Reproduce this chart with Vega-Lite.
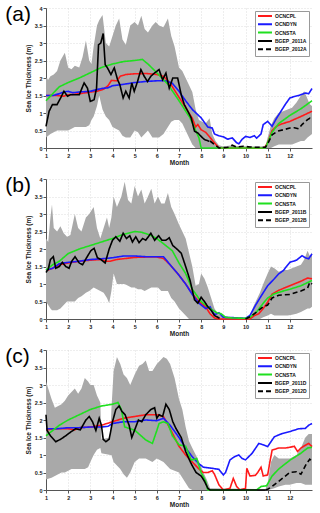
{
"$schema": "https://vega.github.io/schema/vega-lite/v6.json",
"padding": {"left": 5, "top": 4, "right": 7, "bottom": 2},
"spacing": 9,
"config": {
  "font": "Liberation Sans",
  "view": {"stroke": null},
  "axis": {"grid": true, "gridColor": "#c8c8c8", "gridDash": [1, 2], "gridWidth": 0.6, "domainColor": "#555", "tickColor": "#555", "tickSize": 3, "labelFontSize": 5.5, "labelFontWeight": "bold", "labelColor": "#222", "labelOverlap": false, "labelFlush": false, "titleFontSize": 6.5, "titleFontWeight": "bold", "titleColor": "#222"},
  "axisX": {"labelPadding": 2, "titlePadding": 1},
  "axisY": {"labelPadding": 1, "titlePadding": 3},
  "legend": {"orient": "top-right", "offset": 3, "fillColor": "white", "strokeColor": "#999", "padding": 2, "labelFontSize": 5, "labelFontWeight": "bold", "labelColor": "#111", "symbolType": "M-1,0H6", "symbolSize": 16, "symbolStrokeWidth": 2, "rowPadding": 0.3, "labelOffset": 12},
  "title": {"fontSize": 21, "fontWeight": "normal", "anchor": "start", "frame": "bounds", "offset": 0, "color": "#000"}
},
"datasets": {
"eA": [
{"m":1.0,"lo":0.3,"hi":2.0},{"m":1.1,"lo":0.35,"hi":1.95},{"m":1.2,"lo":0.4,"hi":2.05},{"m":1.35,"lo":0.45,"hi":2.1},{"m":1.5,"lo":0.5,"hi":2.2},{"m":1.65,"lo":0.5,"hi":2.5},{"m":1.85,"lo":0.5,"hi":2.72},{"m":2.0,"lo":0.5,"hi":2.3},{"m":2.15,"lo":0.55,"hi":2.25},{"m":2.3,"lo":0.6,"hi":2.35},{"m":2.5,"lo":0.6,"hi":2.3},{"m":2.65,"lo":0.6,"hi":2.6},{"m":2.8,"lo":0.6,"hi":3.07},{"m":2.95,"lo":0.65,"hi":2.5},{"m":3.05,"lo":0.8,"hi":2.4},{"m":3.15,"lo":0.9,"hi":2.9},{"m":3.3,"lo":1.2,"hi":3.5},{"m":3.4,"lo":1.5,"hi":3.65},{"m":3.55,"lo":1.1,"hi":3.8},{"m":3.7,"lo":0.9,"hi":3.0},{"m":3.85,"lo":0.8,"hi":2.9},{"m":4.0,"lo":0.6,"hi":3.2},{"m":4.15,"lo":0.55,"hi":3.5},{"m":4.3,"lo":0.5,"hi":3.7},{"m":4.45,"lo":0.35,"hi":3.1},{"m":4.6,"lo":0.3,"hi":2.95},{"m":4.8,"lo":0.3,"hi":3.5},{"m":5.0,"lo":0.5,"hi":3.6},{"m":5.15,"lo":0.45,"hi":3.5},{"m":5.3,"lo":0.3,"hi":3.78},{"m":5.45,"lo":0.4,"hi":3.4},{"m":5.6,"lo":0.5,"hi":3.3},{"m":5.8,"lo":0.3,"hi":3.5},{"m":5.95,"lo":0.3,"hi":3.6},{"m":6.1,"lo":0.3,"hi":3.5},{"m":6.3,"lo":0.4,"hi":3.45},{"m":6.5,"lo":0.6,"hi":3.7},{"m":6.65,"lo":0.75,"hi":3.2},{"m":6.8,"lo":0.8,"hi":2.9},{"m":7.0,"lo":0.8,"hi":2.3},{"m":7.15,"lo":0.7,"hi":2.2},{"m":7.3,"lo":0.5,"hi":2.0},{"m":7.45,"lo":0.3,"hi":1.8},{"m":7.6,"lo":0.1,"hi":1.6},{"m":7.75,"lo":0.0,"hi":1.1},{"m":7.9,"lo":0.0,"hi":0.8},{"m":8.05,"lo":0.0,"hi":0.75},{"m":8.2,"lo":0.0,"hi":0.7},{"m":8.38,"lo":0.0,"hi":0.85},{"m":8.5,"lo":0.0,"hi":0.4},{"m":8.65,"lo":0.0,"hi":0.2},{"m":8.8,"lo":0.0,"hi":0.08},{"m":9.0,"lo":0.0,"hi":0.04},{"m":9.4,"lo":0.0,"hi":0.08},{"m":9.6,"lo":0.0,"hi":0.06},{"m":10.0,"lo":0.0,"hi":0.05},{"m":10.5,"lo":0.0,"hi":0.04},{"m":10.9,"lo":0.0,"hi":0.05},{"m":11.0,"lo":0.0,"hi":0.3},{"m":11.15,"lo":0.0,"hi":0.65},{"m":11.3,"lo":0.05,"hi":0.85},{"m":11.5,"lo":0.1,"hi":1.0},{"m":11.7,"lo":0.1,"hi":1.05},{"m":11.9,"lo":0.1,"hi":1.1},{"m":12.1,"lo":0.1,"hi":1.15},{"m":12.3,"lo":0.15,"hi":1.3},{"m":12.5,"lo":0.2,"hi":1.5},{"m":12.65,"lo":0.2,"hi":1.62},{"m":12.8,"lo":0.3,"hi":1.4},{"m":12.9,"lo":0.35,"hi":1.25},{"m":13.0,"lo":0.4,"hi":1.2}
],
"lA": [
{"s":"OCNCPL","m":1.0,"v":1.5},{"s":"OCNCPL","m":1.5,"v":1.5},{"s":"OCNCPL","m":1.8,"v":1.48},{"s":"OCNCPL","m":2.0,"v":1.52},{"s":"OCNCPL","m":2.5,"v":1.55},{"s":"OCNCPL","m":3.0,"v":1.6},{"s":"OCNCPL","m":3.3,"v":1.62},{"s":"OCNCPL","m":3.6,"v":1.68},{"s":"OCNCPL","m":3.8,"v":1.78},{"s":"OCNCPL","m":3.95,"v":1.93},{"s":"OCNCPL","m":4.2,"v":1.92},{"s":"OCNCPL","m":4.35,"v":2.05},{"s":"OCNCPL","m":4.6,"v":2.1},{"s":"OCNCPL","m":5.0,"v":2.12},{"s":"OCNCPL","m":5.5,"v":2.13},{"s":"OCNCPL","m":6.0,"v":2.1},{"s":"OCNCPL","m":6.3,"v":2.05},{"s":"OCNCPL","m":6.6,"v":1.85},{"s":"OCNCPL","m":7.0,"v":1.45},{"s":"OCNCPL","m":7.3,"v":1.15},{"s":"OCNCPL","m":7.6,"v":0.85},{"s":"OCNCPL","m":7.75,"v":0.6},{"s":"OCNCPL","m":7.85,"v":0.67},{"s":"OCNCPL","m":8.0,"v":0.52},{"s":"OCNCPL","m":8.2,"v":0.45},{"s":"OCNCPL","m":8.4,"v":0.3},{"s":"OCNCPL","m":8.6,"v":0.15},{"s":"OCNCPL","m":8.8,"v":0.0},{"s":"OCNCPL","m":10.85,"v":0.0},{"s":"OCNCPL","m":11.0,"v":0.15},{"s":"OCNCPL","m":11.2,"v":0.5},{"s":"OCNCPL","m":11.4,"v":0.62},{"s":"OCNCPL","m":11.6,"v":0.68},{"s":"OCNCPL","m":12.0,"v":0.76},{"s":"OCNCPL","m":12.5,"v":0.9},{"s":"OCNCPL","m":13.0,"v":1.05},
{"s":"OCNDYN","m":1.0,"v":1.5},{"s":"OCNDYN","m":1.3,"v":1.5},{"s":"OCNDYN","m":1.6,"v":1.55},{"s":"OCNDYN","m":1.8,"v":1.6},{"s":"OCNDYN","m":2.0,"v":1.62},{"s":"OCNDYN","m":2.2,"v":1.58},{"s":"OCNDYN","m":2.5,"v":1.6},{"s":"OCNDYN","m":3.0,"v":1.62},{"s":"OCNDYN","m":3.5,"v":1.7},{"s":"OCNDYN","m":3.8,"v":1.72},{"s":"OCNDYN","m":4.0,"v":1.78},{"s":"OCNDYN","m":4.5,"v":1.82},{"s":"OCNDYN","m":5.0,"v":1.87},{"s":"OCNDYN","m":5.5,"v":1.9},{"s":"OCNDYN","m":6.0,"v":1.92},{"s":"OCNDYN","m":6.4,"v":1.92},{"s":"OCNDYN","m":6.7,"v":1.85},{"s":"OCNDYN","m":7.0,"v":1.62},{"s":"OCNDYN","m":7.3,"v":1.35},{"s":"OCNDYN","m":7.6,"v":1.1},{"s":"OCNDYN","m":8.0,"v":0.86},{"s":"OCNDYN","m":8.3,"v":0.6},{"s":"OCNDYN","m":8.5,"v":0.57},{"s":"OCNDYN","m":8.6,"v":0.4},{"s":"OCNDYN","m":8.8,"v":0.35},{"s":"OCNDYN","m":9.0,"v":0.32},{"s":"OCNDYN","m":9.2,"v":0.25},{"s":"OCNDYN","m":9.4,"v":0.29},{"s":"OCNDYN","m":9.6,"v":0.15},{"s":"OCNDYN","m":9.7,"v":0.12},{"s":"OCNDYN","m":9.85,"v":0.25},{"s":"OCNDYN","m":10.0,"v":0.33},{"s":"OCNDYN","m":10.2,"v":0.3},{"s":"OCNDYN","m":10.4,"v":0.35},{"s":"OCNDYN","m":10.5,"v":0.28},{"s":"OCNDYN","m":10.7,"v":0.4},{"s":"OCNDYN","m":10.8,"v":0.67},{"s":"OCNDYN","m":11.0,"v":0.76},{"s":"OCNDYN","m":11.2,"v":0.62},{"s":"OCNDYN","m":11.4,"v":0.85},{"s":"OCNDYN","m":11.6,"v":1.05},{"s":"OCNDYN","m":11.8,"v":1.25},{"s":"OCNDYN","m":12.0,"v":1.43},{"s":"OCNDYN","m":12.2,"v":1.47},{"s":"OCNDYN","m":12.4,"v":1.5},{"s":"OCNDYN","m":12.7,"v":1.57},{"s":"OCNDYN","m":12.85,"v":1.55},{"s":"OCNDYN","m":13.0,"v":1.7},
{"s":"OCNSTA","m":1.0,"v":1.35},{"s":"OCNSTA","m":1.3,"v":1.55},{"s":"OCNSTA","m":1.6,"v":1.75},{"s":"OCNSTA","m":2.0,"v":1.87},{"s":"OCNSTA","m":2.5,"v":2.0},{"s":"OCNSTA","m":3.0,"v":2.15},{"s":"OCNSTA","m":3.5,"v":2.3},{"s":"OCNSTA","m":4.0,"v":2.4},{"s":"OCNSTA","m":4.5,"v":2.47},{"s":"OCNSTA","m":5.0,"v":2.5},{"s":"OCNSTA","m":5.35,"v":2.53},{"s":"OCNSTA","m":5.6,"v":2.4},{"s":"OCNSTA","m":6.0,"v":2.15},{"s":"OCNSTA","m":6.5,"v":1.82},{"s":"OCNSTA","m":7.0,"v":1.35},{"s":"OCNSTA","m":7.5,"v":0.86},{"s":"OCNSTA","m":7.9,"v":0.29},{"s":"OCNSTA","m":8.0,"v":0.0},{"s":"OCNSTA","m":10.9,"v":0.0},{"s":"OCNSTA","m":11.2,"v":0.45},{"s":"OCNSTA","m":11.5,"v":0.7},{"s":"OCNSTA","m":12.0,"v":0.93},{"s":"OCNSTA","m":12.5,"v":1.12},{"s":"OCNSTA","m":13.0,"v":1.35},
{"s":"BGEP_2011A","m":1.0,"v":0.62},{"s":"BGEP_2011A","m":1.14,"v":1.05},{"s":"BGEP_2011A","m":1.29,"v":1.24},{"s":"BGEP_2011A","m":1.5,"v":1.24},{"s":"BGEP_2011A","m":1.66,"v":1.43},{"s":"BGEP_2011A","m":1.81,"v":1.62},{"s":"BGEP_2011A","m":1.97,"v":1.48},{"s":"BGEP_2011A","m":2.1,"v":1.52},{"s":"BGEP_2011A","m":2.5,"v":1.52},{"s":"BGEP_2011A","m":2.72,"v":1.86},{"s":"BGEP_2011A","m":2.87,"v":1.71},{"s":"BGEP_2011A","m":3.0,"v":1.33},{"s":"BGEP_2011A","m":3.17,"v":1.38},{"s":"BGEP_2011A","m":3.28,"v":1.71},{"s":"BGEP_2011A","m":3.37,"v":2.95},{"s":"BGEP_2011A","m":3.47,"v":3.0},{"s":"BGEP_2011A","m":3.58,"v":3.27},{"s":"BGEP_2011A","m":3.67,"v":2.38},{"s":"BGEP_2011A","m":3.77,"v":2.29},{"s":"BGEP_2011A","m":3.93,"v":2.1},{"s":"BGEP_2011A","m":4.08,"v":2.29},{"s":"BGEP_2011A","m":4.23,"v":1.95},{"s":"BGEP_2011A","m":4.33,"v":1.81},{"s":"BGEP_2011A","m":4.48,"v":1.43},{"s":"BGEP_2011A","m":4.6,"v":1.62},{"s":"BGEP_2011A","m":4.75,"v":1.43},{"s":"BGEP_2011A","m":4.87,"v":1.86},{"s":"BGEP_2011A","m":4.98,"v":1.62},{"s":"BGEP_2011A","m":5.13,"v":1.9},{"s":"BGEP_2011A","m":5.28,"v":2.24},{"s":"BGEP_2011A","m":5.43,"v":2.05},{"s":"BGEP_2011A","m":5.58,"v":1.9},{"s":"BGEP_2011A","m":5.73,"v":2.05},{"s":"BGEP_2011A","m":5.89,"v":2.14},{"s":"BGEP_2011A","m":6.1,"v":2.24},{"s":"BGEP_2011A","m":6.26,"v":1.95},{"s":"BGEP_2011A","m":6.41,"v":2.14},{"s":"BGEP_2011A","m":6.56,"v":1.71},{"s":"BGEP_2011A","m":6.72,"v":2.0},{"s":"BGEP_2011A","m":6.94,"v":2.0},{"s":"BGEP_2011A","m":7.1,"v":1.52},{"s":"BGEP_2011A","m":7.24,"v":1.24},{"s":"BGEP_2011A","m":7.4,"v":1.05},{"s":"BGEP_2011A","m":7.55,"v":0.86},{"s":"BGEP_2011A","m":7.7,"v":0.48},{"s":"BGEP_2011A","m":7.85,"v":0.43},{"s":"BGEP_2011A","m":8.0,"v":0.33},{"s":"BGEP_2011A","m":8.15,"v":0.24},{"s":"BGEP_2011A","m":8.37,"v":0.19},
{"s":"BGEP_2012A","m":8.4,"v":0.2},{"s":"BGEP_2012A","m":8.6,"v":0.1},{"s":"BGEP_2012A","m":8.8,"v":0.0},{"s":"BGEP_2012A","m":9.2,"v":0.02},{"s":"BGEP_2012A","m":9.4,"v":0.08},{"s":"BGEP_2012A","m":9.6,"v":0.03},{"s":"BGEP_2012A","m":9.9,"v":0.05},{"s":"BGEP_2012A","m":10.2,"v":0.03},{"s":"BGEP_2012A","m":10.5,"v":0.02},{"s":"BGEP_2012A","m":10.9,"v":0.02},{"s":"BGEP_2012A","m":11.0,"v":0.12},{"s":"BGEP_2012A","m":11.2,"v":0.38},{"s":"BGEP_2012A","m":11.45,"v":0.48},{"s":"BGEP_2012A","m":11.7,"v":0.52},{"s":"BGEP_2012A","m":12.0,"v":0.57},{"s":"BGEP_2012A","m":12.2,"v":0.58},{"s":"BGEP_2012A","m":12.4,"v":0.55},{"s":"BGEP_2012A","m":12.55,"v":0.67},{"s":"BGEP_2012A","m":12.8,"v":0.81},{"s":"BGEP_2012A","m":12.9,"v":0.85},{"s":"BGEP_2012A","m":13.0,"v":0.78}
],
"eB": [
{"m":1.0,"lo":0.5,"hi":2.3},{"m":1.1,"lo":0.4,"hi":2.2},{"m":1.2,"lo":0.3,"hi":2.9},{"m":1.27,"lo":0.25,"hi":3.27},{"m":1.35,"lo":0.25,"hi":2.6},{"m":1.5,"lo":0.25,"hi":2.5},{"m":1.65,"lo":0.3,"hi":2.65},{"m":1.8,"lo":0.4,"hi":2.45},{"m":1.95,"lo":0.5,"hi":2.35},{"m":2.1,"lo":0.5,"hi":2.4},{"m":2.3,"lo":0.5,"hi":3.0},{"m":2.45,"lo":0.6,"hi":2.6},{"m":2.6,"lo":0.65,"hi":2.5},{"m":2.8,"lo":0.75,"hi":2.9},{"m":2.95,"lo":0.8,"hi":3.0},{"m":3.15,"lo":0.9,"hi":3.2},{"m":3.3,"lo":0.85,"hi":2.6},{"m":3.45,"lo":0.8,"hi":2.3},{"m":3.6,"lo":0.75,"hi":2.6},{"m":3.75,"lo":0.6,"hi":2.9},{"m":3.85,"lo":0.45,"hi":2.6},{"m":3.95,"lo":0.8,"hi":2.9},{"m":4.05,"lo":1.3,"hi":3.5},{"m":4.2,"lo":1.0,"hi":3.2},{"m":4.4,"lo":1.0,"hi":3.5},{"m":4.55,"lo":1.0,"hi":3.92},{"m":4.7,"lo":0.95,"hi":3.4},{"m":4.85,"lo":0.9,"hi":3.3},{"m":5.0,"lo":0.9,"hi":3.8},{"m":5.15,"lo":0.85,"hi":3.5},{"m":5.3,"lo":0.85,"hi":3.7},{"m":5.45,"lo":0.8,"hi":3.3},{"m":5.6,"lo":0.85,"hi":3.5},{"m":5.75,"lo":0.9,"hi":3.72},{"m":5.9,"lo":0.9,"hi":3.3},{"m":6.05,"lo":0.9,"hi":3.5},{"m":6.2,"lo":0.8,"hi":3.3},{"m":6.35,"lo":0.8,"hi":3.3},{"m":6.5,"lo":0.8,"hi":3.6},{"m":6.65,"lo":0.6,"hi":3.2},{"m":6.8,"lo":0.5,"hi":3.0},{"m":7.0,"lo":0.3,"hi":2.7},{"m":7.15,"lo":0.2,"hi":2.5},{"m":7.3,"lo":0.1,"hi":2.3},{"m":7.45,"lo":0.0,"hi":1.9},{"m":7.6,"lo":0.0,"hi":1.5},{"m":7.75,"lo":0.0,"hi":0.95},{"m":7.9,"lo":0.0,"hi":1.0},{"m":8.0,"lo":0.0,"hi":1.3},{"m":8.15,"lo":0.0,"hi":1.15},{"m":8.3,"lo":0.0,"hi":0.9},{"m":8.45,"lo":0.0,"hi":0.6},{"m":8.6,"lo":0.0,"hi":0.3},{"m":8.75,"lo":0.0,"hi":0.15},{"m":8.9,"lo":0.0,"hi":0.1},{"m":9.2,"lo":0.0,"hi":0.05},{"m":9.6,"lo":0.0,"hi":0.04},{"m":10.0,"lo":0.0,"hi":0.03},{"m":10.2,"lo":0.0,"hi":0.1},{"m":10.35,"lo":0.0,"hi":0.35},{"m":10.5,"lo":0.0,"hi":0.55},{"m":10.65,"lo":0.0,"hi":0.75},{"m":10.8,"lo":0.05,"hi":1.0},{"m":11.0,"lo":0.1,"hi":1.3},{"m":11.15,"lo":0.15,"hi":1.5},{"m":11.3,"lo":0.1,"hi":1.45},{"m":11.5,"lo":0.1,"hi":1.35},{"m":11.7,"lo":0.1,"hi":1.4},{"m":11.9,"lo":0.1,"hi":1.4},{"m":12.1,"lo":0.12,"hi":1.45},{"m":12.3,"lo":0.15,"hi":1.5},{"m":12.5,"lo":0.2,"hi":1.55},{"m":12.65,"lo":0.25,"hi":1.7},{"m":12.8,"lo":0.3,"hi":1.95},{"m":12.9,"lo":0.3,"hi":1.8},{"m":13.0,"lo":0.35,"hi":1.9}
],
"lB": [
{"s":"OCNCPL","m":1.0,"v":1.38},{"s":"OCNCPL","m":1.3,"v":1.45},{"s":"OCNCPL","m":1.6,"v":1.55},{"s":"OCNCPL","m":2.0,"v":1.6},{"s":"OCNCPL","m":2.5,"v":1.65},{"s":"OCNCPL","m":3.0,"v":1.68},{"s":"OCNCPL","m":3.5,"v":1.7},{"s":"OCNCPL","m":3.7,"v":1.65},{"s":"OCNCPL","m":3.9,"v":1.65},{"s":"OCNCPL","m":4.2,"v":1.7},{"s":"OCNCPL","m":4.6,"v":1.73},{"s":"OCNCPL","m":5.0,"v":1.76},{"s":"OCNCPL","m":5.5,"v":1.77},{"s":"OCNCPL","m":6.0,"v":1.77},{"s":"OCNCPL","m":6.3,"v":1.73},{"s":"OCNCPL","m":6.6,"v":1.55},{"s":"OCNCPL","m":7.0,"v":1.25},{"s":"OCNCPL","m":7.3,"v":1.0},{"s":"OCNCPL","m":7.6,"v":0.72},{"s":"OCNCPL","m":7.9,"v":0.5},{"s":"OCNCPL","m":8.2,"v":0.35},{"s":"OCNCPL","m":8.4,"v":0.15},{"s":"OCNCPL","m":8.6,"v":0.03},{"s":"OCNCPL","m":8.8,"v":0.0},{"s":"OCNCPL","m":10.2,"v":0.0},{"s":"OCNCPL","m":10.4,"v":0.1},{"s":"OCNCPL","m":10.6,"v":0.15},{"s":"OCNCPL","m":10.8,"v":0.3},{"s":"OCNCPL","m":11.0,"v":0.48},{"s":"OCNCPL","m":11.2,"v":0.71},{"s":"OCNCPL","m":11.5,"v":0.82},{"s":"OCNCPL","m":12.0,"v":0.95},{"s":"OCNCPL","m":12.5,"v":1.08},{"s":"OCNCPL","m":12.8,"v":1.17},{"s":"OCNCPL","m":13.0,"v":1.15},
{"s":"OCNDYN","m":1.0,"v":1.4},{"s":"OCNDYN","m":1.3,"v":1.45},{"s":"OCNDYN","m":1.6,"v":1.58},{"s":"OCNDYN","m":2.0,"v":1.62},{"s":"OCNDYN","m":2.5,"v":1.65},{"s":"OCNDYN","m":3.0,"v":1.7},{"s":"OCNDYN","m":3.5,"v":1.72},{"s":"OCNDYN","m":4.0,"v":1.75},{"s":"OCNDYN","m":4.5,"v":1.8},{"s":"OCNDYN","m":5.0,"v":1.8},{"s":"OCNDYN","m":5.5,"v":1.78},{"s":"OCNDYN","m":6.0,"v":1.78},{"s":"OCNDYN","m":6.3,"v":1.78},{"s":"OCNDYN","m":6.6,"v":1.55},{"s":"OCNDYN","m":7.0,"v":1.25},{"s":"OCNDYN","m":7.3,"v":1.0},{"s":"OCNDYN","m":7.6,"v":0.7},{"s":"OCNDYN","m":7.9,"v":0.45},{"s":"OCNDYN","m":8.2,"v":0.3},{"s":"OCNDYN","m":8.4,"v":0.35},{"s":"OCNDYN","m":8.6,"v":0.12},{"s":"OCNDYN","m":8.8,"v":0.18},{"s":"OCNDYN","m":9.0,"v":0.05},{"s":"OCNDYN","m":9.4,"v":0.04},{"s":"OCNDYN","m":10.0,"v":0.02},{"s":"OCNDYN","m":10.2,"v":0.1},{"s":"OCNDYN","m":10.45,"v":0.39},{"s":"OCNDYN","m":10.7,"v":0.65},{"s":"OCNDYN","m":11.0,"v":0.95},{"s":"OCNDYN","m":11.3,"v":1.15},{"s":"OCNDYN","m":11.5,"v":1.29},{"s":"OCNDYN","m":11.7,"v":1.38},{"s":"OCNDYN","m":12.0,"v":1.62},{"s":"OCNDYN","m":12.3,"v":1.68},{"s":"OCNDYN","m":12.55,"v":1.81},{"s":"OCNDYN","m":12.7,"v":1.75},{"s":"OCNDYN","m":12.85,"v":1.72},{"s":"OCNDYN","m":13.0,"v":1.86},
{"s":"OCNSTA","m":1.0,"v":1.4},{"s":"OCNSTA","m":1.3,"v":1.55},{"s":"OCNSTA","m":1.6,"v":1.65},{"s":"OCNSTA","m":2.0,"v":1.87},{"s":"OCNSTA","m":2.5,"v":2.0},{"s":"OCNSTA","m":3.0,"v":2.1},{"s":"OCNSTA","m":3.5,"v":2.2},{"s":"OCNSTA","m":4.0,"v":2.3},{"s":"OCNSTA","m":4.5,"v":2.42},{"s":"OCNSTA","m":5.0,"v":2.5},{"s":"OCNSTA","m":5.3,"v":2.48},{"s":"OCNSTA","m":5.7,"v":2.4},{"s":"OCNSTA","m":6.0,"v":2.3},{"s":"OCNSTA","m":6.4,"v":2.1},{"s":"OCNSTA","m":6.7,"v":1.95},{"s":"OCNSTA","m":7.0,"v":1.6},{"s":"OCNSTA","m":7.3,"v":1.3},{"s":"OCNSTA","m":7.6,"v":0.85},{"s":"OCNSTA","m":8.0,"v":0.5},{"s":"OCNSTA","m":8.4,"v":0.3},{"s":"OCNSTA","m":8.7,"v":0.18},{"s":"OCNSTA","m":8.9,"v":0.15},{"s":"OCNSTA","m":9.1,"v":0.05},{"s":"OCNSTA","m":9.4,"v":0.03},{"s":"OCNSTA","m":10.0,"v":0.02},{"s":"OCNSTA","m":10.2,"v":0.05},{"s":"OCNSTA","m":10.5,"v":0.2},{"s":"OCNSTA","m":10.8,"v":0.45},{"s":"OCNSTA","m":11.0,"v":0.6},{"s":"OCNSTA","m":11.3,"v":0.72},{"s":"OCNSTA","m":11.6,"v":0.78},{"s":"OCNSTA","m":12.0,"v":0.85},{"s":"OCNSTA","m":12.5,"v":0.95},{"s":"OCNSTA","m":13.0,"v":1.1},
{"s":"BGEP_2011B","m":1.0,"v":1.33},{"s":"BGEP_2011B","m":1.1,"v":1.42},{"s":"BGEP_2011B","m":1.2,"v":1.7},{"s":"BGEP_2011B","m":1.33,"v":1.78},{"s":"BGEP_2011B","m":1.44,"v":1.45},{"s":"BGEP_2011B","m":1.6,"v":1.5},{"s":"BGEP_2011B","m":1.74,"v":1.62},{"s":"BGEP_2011B","m":1.89,"v":1.5},{"s":"BGEP_2011B","m":2.04,"v":1.45},{"s":"BGEP_2011B","m":2.16,"v":1.65},{"s":"BGEP_2011B","m":2.31,"v":1.78},{"s":"BGEP_2011B","m":2.5,"v":1.6},{"s":"BGEP_2011B","m":2.65,"v":1.55},{"s":"BGEP_2011B","m":2.83,"v":1.75},{"s":"BGEP_2011B","m":3.02,"v":1.95},{"s":"BGEP_2011B","m":3.17,"v":2.02},{"s":"BGEP_2011B","m":3.32,"v":1.75},{"s":"BGEP_2011B","m":3.47,"v":1.7},{"s":"BGEP_2011B","m":3.67,"v":1.6},{"s":"BGEP_2011B","m":3.85,"v":2.0},{"s":"BGEP_2011B","m":4.0,"v":2.25},{"s":"BGEP_2011B","m":4.15,"v":2.35},{"s":"BGEP_2011B","m":4.33,"v":2.22},{"s":"BGEP_2011B","m":4.48,"v":2.45},{"s":"BGEP_2011B","m":4.63,"v":2.3},{"s":"BGEP_2011B","m":4.78,"v":2.38},{"s":"BGEP_2011B","m":4.9,"v":2.2},{"s":"BGEP_2011B","m":5.05,"v":2.35},{"s":"BGEP_2011B","m":5.2,"v":2.18},{"s":"BGEP_2011B","m":5.36,"v":2.3},{"s":"BGEP_2011B","m":5.5,"v":2.25},{"s":"BGEP_2011B","m":5.73,"v":2.45},{"s":"BGEP_2011B","m":5.9,"v":2.25},{"s":"BGEP_2011B","m":6.08,"v":2.38},{"s":"BGEP_2011B","m":6.23,"v":2.25},{"s":"BGEP_2011B","m":6.41,"v":2.25},{"s":"BGEP_2011B","m":6.56,"v":2.32},{"s":"BGEP_2011B","m":6.72,"v":2.1},{"s":"BGEP_2011B","m":6.94,"v":1.98},{"s":"BGEP_2011B","m":7.1,"v":1.88},{"s":"BGEP_2011B","m":7.3,"v":1.5},{"s":"BGEP_2011B","m":7.5,"v":1.1},{"s":"BGEP_2011B","m":7.7,"v":0.55},{"s":"BGEP_2011B","m":7.85,"v":0.45},{"s":"BGEP_2011B","m":8.0,"v":0.62},{"s":"BGEP_2011B","m":8.15,"v":0.5},{"s":"BGEP_2011B","m":8.3,"v":0.35},{"s":"BGEP_2011B","m":8.45,"v":0.25},{"s":"BGEP_2011B","m":8.6,"v":0.1},{"s":"BGEP_2011B","m":8.83,"v":0.02},
{"s":"BGEP_2012B","m":10.0,"v":0.0},{"s":"BGEP_2012B","m":10.3,"v":0.1},{"s":"BGEP_2012B","m":10.6,"v":0.25},{"s":"BGEP_2012B","m":10.8,"v":0.35},{"s":"BGEP_2012B","m":11.0,"v":0.4},{"s":"BGEP_2012B","m":11.2,"v":0.6},{"s":"BGEP_2012B","m":11.5,"v":0.68},{"s":"BGEP_2012B","m":12.0,"v":0.7},{"s":"BGEP_2012B","m":12.5,"v":0.8},{"s":"BGEP_2012B","m":12.8,"v":0.88},{"s":"BGEP_2012B","m":12.9,"v":1.05},{"s":"BGEP_2012B","m":13.0,"v":1.0}
],
"eC": [
{"m":1.0,"lo":0.3,"hi":3.1},{"m":1.1,"lo":0.32,"hi":2.9},{"m":1.25,"lo":0.35,"hi":2.6},{"m":1.4,"lo":0.4,"hi":2.35},{"m":1.55,"lo":0.45,"hi":2.4},{"m":1.7,"lo":0.5,"hi":2.45},{"m":1.85,"lo":0.5,"hi":2.55},{"m":2.0,"lo":0.55,"hi":2.7},{"m":2.15,"lo":0.6,"hi":2.8},{"m":2.3,"lo":0.6,"hi":2.9},{"m":2.45,"lo":0.6,"hi":2.75},{"m":2.6,"lo":0.6,"hi":2.9},{"m":2.75,"lo":0.6,"hi":3.2},{"m":2.9,"lo":0.65,"hi":3.1},{"m":3.0,"lo":0.8,"hi":3.0},{"m":3.15,"lo":1.0,"hi":3.0},{"m":3.3,"lo":1.15,"hi":2.7},{"m":3.45,"lo":1.2,"hi":2.5},{"m":3.5,"lo":1.05,"hi":1.45},{"m":3.9,"lo":1.0,"hi":1.5},{"m":3.95,"lo":1.0,"hi":2.3},{"m":4.05,"lo":0.8,"hi":3.4},{"m":4.2,"lo":0.7,"hi":3.8},{"m":4.35,"lo":0.6,"hi":3.6},{"m":4.5,"lo":0.45,"hi":3.3},{"m":4.65,"lo":0.35,"hi":3.2},{"m":4.8,"lo":0.5,"hi":3.0},{"m":5.0,"lo":0.8,"hi":3.3},{"m":5.2,"lo":0.9,"hi":3.55},{"m":5.35,"lo":0.9,"hi":3.6},{"m":5.5,"lo":0.9,"hi":3.7},{"m":5.65,"lo":0.85,"hi":3.4},{"m":5.8,"lo":0.8,"hi":3.4},{"m":6.0,"lo":0.9,"hi":3.6},{"m":6.15,"lo":0.85,"hi":3.7},{"m":6.3,"lo":0.8,"hi":3.8},{"m":6.45,"lo":0.7,"hi":3.75},{"m":6.6,"lo":0.6,"hi":3.6},{"m":6.8,"lo":0.55,"hi":3.2},{"m":7.0,"lo":0.5,"hi":2.6},{"m":7.15,"lo":0.35,"hi":2.3},{"m":7.3,"lo":0.2,"hi":1.8},{"m":7.45,"lo":0.05,"hi":1.4},{"m":7.6,"lo":0.0,"hi":1.2},{"m":7.8,"lo":0.0,"hi":0.95},{"m":7.95,"lo":0.0,"hi":0.75},{"m":8.1,"lo":0.0,"hi":0.5},{"m":8.25,"lo":0.0,"hi":0.3},{"m":8.4,"lo":0.0,"hi":0.05},{"m":10.9,"lo":0.0,"hi":0.02},{"m":11.0,"lo":0.0,"hi":0.2},{"m":11.15,"lo":0.02,"hi":0.8},{"m":11.3,"lo":0.05,"hi":1.0},{"m":11.5,"lo":0.1,"hi":0.9},{"m":11.8,"lo":0.15,"hi":0.9},{"m":12.0,"lo":0.15,"hi":0.9},{"m":12.3,"lo":0.2,"hi":1.0},{"m":12.5,"lo":0.2,"hi":1.2},{"m":12.7,"lo":0.15,"hi":1.5},{"m":12.85,"lo":0.15,"hi":1.6},{"m":13.0,"lo":0.15,"hi":1.6}
],
"lC": [
{"s":"OCNCPL","m":1.0,"v":1.72},{"s":"OCNCPL","m":1.5,"v":1.75},{"s":"OCNCPL","m":2.0,"v":1.75},{"s":"OCNCPL","m":2.3,"v":1.72},{"s":"OCNCPL","m":2.5,"v":1.78},{"s":"OCNCPL","m":3.0,"v":1.8},{"s":"OCNCPL","m":3.5,"v":1.85},{"s":"OCNCPL","m":4.0,"v":1.95},{"s":"OCNCPL","m":4.5,"v":2.05},{"s":"OCNCPL","m":5.0,"v":2.1},{"s":"OCNCPL","m":5.5,"v":2.15},{"s":"OCNCPL","m":6.0,"v":2.15},{"s":"OCNCPL","m":6.3,"v":2.1},{"s":"OCNCPL","m":6.6,"v":1.75},{"s":"OCNCPL","m":7.0,"v":1.25},{"s":"OCNCPL","m":7.3,"v":1.0},{"s":"OCNCPL","m":7.6,"v":0.8},{"s":"OCNCPL","m":7.9,"v":0.6},{"s":"OCNCPL","m":8.1,"v":0.5},{"s":"OCNCPL","m":8.3,"v":0.5},{"s":"OCNCPL","m":8.5,"v":0.55},{"s":"OCNCPL","m":8.6,"v":0.45},{"s":"OCNCPL","m":8.8,"v":0.15},{"s":"OCNCPL","m":9.0,"v":0.0},{"s":"OCNCPL","m":9.3,"v":0.05},{"s":"OCNCPL","m":9.45,"v":0.33},{"s":"OCNCPL","m":9.6,"v":0.1},{"s":"OCNCPL","m":9.75,"v":0.0},{"s":"OCNCPL","m":10.0,"v":0.05},{"s":"OCNCPL","m":10.06,"v":0.62},{"s":"OCNCPL","m":10.2,"v":0.4},{"s":"OCNCPL","m":10.45,"v":0.42},{"s":"OCNCPL","m":10.55,"v":0.5},{"s":"OCNCPL","m":10.7,"v":0.65},{"s":"OCNCPL","m":10.8,"v":0.4},{"s":"OCNCPL","m":11.0,"v":0.43},{"s":"OCNCPL","m":11.1,"v":0.8},{"s":"OCNCPL","m":11.2,"v":1.14},{"s":"OCNCPL","m":11.5,"v":1.2},{"s":"OCNCPL","m":11.8,"v":1.2},{"s":"OCNCPL","m":12.0,"v":1.22},{"s":"OCNCPL","m":12.2,"v":1.25},{"s":"OCNCPL","m":12.35,"v":1.1},{"s":"OCNCPL","m":12.5,"v":1.2},{"s":"OCNCPL","m":12.7,"v":1.28},{"s":"OCNCPL","m":12.85,"v":1.33},{"s":"OCNCPL","m":13.0,"v":1.24},
{"s":"OCNDYN","m":1.0,"v":1.75},{"s":"OCNDYN","m":1.5,"v":1.75},{"s":"OCNDYN","m":2.0,"v":1.78},{"s":"OCNDYN","m":2.5,"v":1.78},{"s":"OCNDYN","m":3.0,"v":1.8},{"s":"OCNDYN","m":3.5,"v":1.8},{"s":"OCNDYN","m":3.8,"v":1.82},{"s":"OCNDYN","m":4.0,"v":1.9},{"s":"OCNDYN","m":4.5,"v":1.95},{"s":"OCNDYN","m":5.0,"v":1.95},{"s":"OCNDYN","m":5.5,"v":2.0},{"s":"OCNDYN","m":6.0,"v":1.98},{"s":"OCNDYN","m":6.3,"v":2.05},{"s":"OCNDYN","m":6.6,"v":1.85},{"s":"OCNDYN","m":7.0,"v":1.5},{"s":"OCNDYN","m":7.3,"v":1.2},{"s":"OCNDYN","m":7.6,"v":0.95},{"s":"OCNDYN","m":7.9,"v":0.75},{"s":"OCNDYN","m":8.1,"v":0.65},{"s":"OCNDYN","m":8.5,"v":0.62},{"s":"OCNDYN","m":8.8,"v":0.59},{"s":"OCNDYN","m":9.0,"v":0.43},{"s":"OCNDYN","m":9.1,"v":0.5},{"s":"OCNDYN","m":9.3,"v":0.86},{"s":"OCNDYN","m":9.5,"v":0.95},{"s":"OCNDYN","m":9.7,"v":1.0},{"s":"OCNDYN","m":9.85,"v":0.9},{"s":"OCNDYN","m":10.0,"v":0.86},{"s":"OCNDYN","m":10.3,"v":1.05},{"s":"OCNDYN","m":10.6,"v":1.33},{"s":"OCNDYN","m":10.8,"v":1.29},{"s":"OCNDYN","m":11.0,"v":1.24},{"s":"OCNDYN","m":11.3,"v":1.52},{"s":"OCNDYN","m":11.6,"v":1.6},{"s":"OCNDYN","m":12.0,"v":1.67},{"s":"OCNDYN","m":12.4,"v":1.75},{"s":"OCNDYN","m":12.7,"v":1.76},{"s":"OCNDYN","m":12.85,"v":1.85},{"s":"OCNDYN","m":13.0,"v":1.9},
{"s":"OCNSTA","m":1.0,"v":1.55},{"s":"OCNSTA","m":1.3,"v":1.7},{"s":"OCNSTA","m":1.6,"v":1.85},{"s":"OCNSTA","m":2.0,"v":2.0},{"s":"OCNSTA","m":2.5,"v":2.15},{"s":"OCNSTA","m":3.0,"v":2.3},{"s":"OCNSTA","m":3.5,"v":2.4},{"s":"OCNSTA","m":4.0,"v":2.45},{"s":"OCNSTA","m":4.25,"v":2.5},{"s":"OCNSTA","m":4.4,"v":2.3},{"s":"OCNSTA","m":4.55,"v":1.8},{"s":"OCNSTA","m":4.8,"v":1.75},{"s":"OCNSTA","m":5.0,"v":1.71},{"s":"OCNSTA","m":5.5,"v":1.43},{"s":"OCNSTA","m":5.8,"v":1.33},{"s":"OCNSTA","m":6.0,"v":1.7},{"s":"OCNSTA","m":6.1,"v":1.9},{"s":"OCNSTA","m":6.3,"v":1.95},{"s":"OCNSTA","m":6.5,"v":1.9},{"s":"OCNSTA","m":6.7,"v":1.55},{"s":"OCNSTA","m":7.0,"v":1.29},{"s":"OCNSTA","m":7.3,"v":1.25},{"s":"OCNSTA","m":7.55,"v":0.85},{"s":"OCNSTA","m":7.8,"v":0.9},{"s":"OCNSTA","m":8.0,"v":0.5},{"s":"OCNSTA","m":8.2,"v":0.25},{"s":"OCNSTA","m":8.3,"v":0.0},{"s":"OCNSTA","m":10.5,"v":0.0},{"s":"OCNSTA","m":10.7,"v":0.1},{"s":"OCNSTA","m":10.95,"v":0.12},{"s":"OCNSTA","m":11.2,"v":0.4},{"s":"OCNSTA","m":11.5,"v":0.6},{"s":"OCNSTA","m":12.0,"v":0.85},{"s":"OCNSTA","m":12.5,"v":1.05},{"s":"OCNSTA","m":12.8,"v":1.2},{"s":"OCNSTA","m":13.0,"v":1.22},
{"s":"BGEP_2011D","m":1.0,"v":2.15},{"s":"BGEP_2011D","m":1.05,"v":1.7},{"s":"BGEP_2011D","m":1.2,"v":1.55},{"s":"BGEP_2011D","m":1.44,"v":1.38},{"s":"BGEP_2011D","m":1.66,"v":1.45},{"s":"BGEP_2011D","m":1.89,"v":1.55},{"s":"BGEP_2011D","m":2.1,"v":1.65},{"s":"BGEP_2011D","m":2.33,"v":1.75},{"s":"BGEP_2011D","m":2.55,"v":1.72},{"s":"BGEP_2011D","m":2.8,"v":2.0},{"s":"BGEP_2011D","m":2.95,"v":2.1},{"s":"BGEP_2011D","m":3.1,"v":1.95},{"s":"BGEP_2011D","m":3.25,"v":1.7},{"s":"BGEP_2011D","m":3.4,"v":2.05},{"s":"BGEP_2011D","m":3.5,"v":1.85},{"s":"BGEP_2011D","m":3.58,"v":1.45},{"s":"BGEP_2011D","m":3.7,"v":1.38},{"s":"BGEP_2011D","m":3.85,"v":1.45},{"s":"BGEP_2011D","m":4.0,"v":1.95},{"s":"BGEP_2011D","m":4.15,"v":2.3},{"s":"BGEP_2011D","m":4.3,"v":2.4},{"s":"BGEP_2011D","m":4.42,"v":2.25},{"s":"BGEP_2011D","m":4.57,"v":2.15},{"s":"BGEP_2011D","m":4.75,"v":1.85},{"s":"BGEP_2011D","m":4.87,"v":1.5},{"s":"BGEP_2011D","m":5.02,"v":1.75},{"s":"BGEP_2011D","m":5.17,"v":2.0},{"s":"BGEP_2011D","m":5.32,"v":1.95},{"s":"BGEP_2011D","m":5.5,"v":2.15},{"s":"BGEP_2011D","m":5.73,"v":2.3},{"s":"BGEP_2011D","m":5.9,"v":2.35},{"s":"BGEP_2011D","m":6.0,"v":2.05},{"s":"BGEP_2011D","m":6.1,"v":2.15},{"s":"BGEP_2011D","m":6.26,"v":2.1},{"s":"BGEP_2011D","m":6.41,"v":2.45},{"s":"BGEP_2011D","m":6.56,"v":2.3},{"s":"BGEP_2011D","m":6.72,"v":1.95},{"s":"BGEP_2011D","m":6.87,"v":1.75},{"s":"BGEP_2011D","m":7.1,"v":1.5},{"s":"BGEP_2011D","m":7.3,"v":1.1},{"s":"BGEP_2011D","m":7.55,"v":0.75},{"s":"BGEP_2011D","m":7.77,"v":0.5},{"s":"BGEP_2011D","m":8.0,"v":0.4},{"s":"BGEP_2011D","m":8.15,"v":0.25},{"s":"BGEP_2011D","m":8.3,"v":0.05},{"s":"BGEP_2011D","m":8.4,"v":0.0},{"s":"BGEP_2011D","m":10.9,"v":0.0},
{"s":"BGEP_2012D","m":10.9,"v":0.0},{"s":"BGEP_2012D","m":11.0,"v":0.02},{"s":"BGEP_2012D","m":11.2,"v":0.1},{"s":"BGEP_2012D","m":11.4,"v":0.2},{"s":"BGEP_2012D","m":11.7,"v":0.35},{"s":"BGEP_2012D","m":12.0,"v":0.5},{"s":"BGEP_2012D","m":12.3,"v":0.52},{"s":"BGEP_2012D","m":12.5,"v":0.45},{"s":"BGEP_2012D","m":12.75,"v":0.75},{"s":"BGEP_2012D","m":12.9,"v":0.88},{"s":"BGEP_2012D","m":13.0,"v":0.82}
]
},
"resolve": {"scale": {"color": "independent", "strokeDash": "independent"}, "legend": {"color": "independent", "strokeDash": "independent"}},
"vconcat": [
{"width": 266, "height": 140, "title": {"text": "(a)", "dx": -20, "dy": 23},
 "layer": [
  {"data": {"name": "eA"}, "mark": {"type": "area", "color": "#a9a9a9", "opacity": 1},
   "encoding": {"x": {"field": "m", "type": "quantitative", "scale": {"domain": [1, 13], "nice": false}, "axis": {"values": [1,2,3,4,5,6,7,8,9,10,11,12], "title": "Month"}},
                "y": {"field": "lo", "type": "quantitative", "scale": {"domain": [0, 4], "nice": false}, "axis": {"values": [0,0.5,1,1.5,2,2.5,3,3.5,4], "labelExpr": "'' + datum.value", "title": "Sea Ice Thickness (m)"}},
                "y2": {"field": "hi"}}},
  {"data": {"name": "lA"}, "mark": {"type": "line", "strokeWidth": 1.6},
   "encoding": {"x": {"field": "m", "type": "quantitative", "axis": {"values": [1,2,3,4,5,6,7,8,9,10,11,12], "title": "Month"}},
                "y": {"field": "v", "type": "quantitative", "axis": {"values": [0,0.5,1,1.5,2,2.5,3,3.5,4], "labelExpr": "'' + datum.value", "title": "Sea Ice Thickness (m)"}},
                "color": {"field": "s", "type": "nominal", "scale": {"domain": ["OCNCPL","OCNDYN","OCNSTA","BGEP_2011A","BGEP_2012A"], "range": ["#ff1a1a","#1a1aff","#1fe01f","#000000","#000000"]}, "legend": {"title": null}},
                "strokeDash": {"field": "s", "type": "nominal", "scale": {"domain": ["OCNCPL","OCNDYN","OCNSTA","BGEP_2011A","BGEP_2012A"], "range": [[1,0],[1,0],[1,0],[1,0],[5,3]]}, "legend": {"title": null}}}}
 ]},
{"width": 266, "height": 140, "title": {"text": "(b)", "dx": -20, "dy": 23},
 "layer": [
  {"data": {"name": "eB"}, "mark": {"type": "area", "color": "#a9a9a9", "opacity": 1},
   "encoding": {"x": {"field": "m", "type": "quantitative", "scale": {"domain": [1, 13], "nice": false}, "axis": {"values": [1,2,3,4,5,6,7,8,9,10,11,12], "title": "Month"}},
                "y": {"field": "lo", "type": "quantitative", "scale": {"domain": [0, 4], "nice": false}, "axis": {"values": [0,0.5,1,1.5,2,2.5,3,3.5,4], "labelExpr": "'' + datum.value", "title": "Sea Ice Thickness (m)"}},
                "y2": {"field": "hi"}}},
  {"data": {"name": "lB"}, "mark": {"type": "line", "strokeWidth": 1.6},
   "encoding": {"x": {"field": "m", "type": "quantitative", "axis": {"values": [1,2,3,4,5,6,7,8,9,10,11,12], "title": "Month"}},
                "y": {"field": "v", "type": "quantitative", "axis": {"values": [0,0.5,1,1.5,2,2.5,3,3.5,4], "labelExpr": "'' + datum.value", "title": "Sea Ice Thickness (m)"}},
                "color": {"field": "s", "type": "nominal", "scale": {"domain": ["OCNCPL","OCNDYN","OCNSTA","BGEP_2011B","BGEP_2012B"], "range": ["#ff1a1a","#1a1aff","#1fe01f","#000000","#000000"]}, "legend": {"title": null}},
                "strokeDash": {"field": "s", "type": "nominal", "scale": {"domain": ["OCNCPL","OCNDYN","OCNSTA","BGEP_2011B","BGEP_2012B"], "range": [[1,0],[1,0],[1,0],[1,0],[5,3]]}, "legend": {"title": null}}}}
 ]},
{"width": 266, "height": 140, "title": {"text": "(c)", "dx": -20, "dy": 23},
 "layer": [
  {"data": {"name": "eC"}, "mark": {"type": "area", "color": "#a9a9a9", "opacity": 1},
   "encoding": {"x": {"field": "m", "type": "quantitative", "scale": {"domain": [1, 13], "nice": false}, "axis": {"values": [1,2,3,4,5,6,7,8,9,10,11,12], "title": "Month"}},
                "y": {"field": "lo", "type": "quantitative", "scale": {"domain": [0, 4], "nice": false}, "axis": {"values": [0,0.5,1,1.5,2,2.5,3,3.5,4], "labelExpr": "'' + datum.value", "title": "Sea Ice Thickness (m)"}},
                "y2": {"field": "hi"}}},
  {"data": {"name": "lC"}, "mark": {"type": "line", "strokeWidth": 1.6},
   "encoding": {"x": {"field": "m", "type": "quantitative", "axis": {"values": [1,2,3,4,5,6,7,8,9,10,11,12], "title": "Month"}},
                "y": {"field": "v", "type": "quantitative", "axis": {"values": [0,0.5,1,1.5,2,2.5,3,3.5,4], "labelExpr": "'' + datum.value", "title": "Sea Ice Thickness (m)"}},
                "color": {"field": "s", "type": "nominal", "scale": {"domain": ["OCNCPL","OCNDYN","OCNSTA","BGEP_2011D","BGEP_2012D"], "range": ["#ff1a1a","#1a1aff","#1fe01f","#000000","#000000"]}, "legend": {"title": null}},
                "strokeDash": {"field": "s", "type": "nominal", "scale": {"domain": ["OCNCPL","OCNDYN","OCNSTA","BGEP_2011D","BGEP_2012D"], "range": [[1,0],[1,0],[1,0],[1,0],[5,3]]}, "legend": {"title": null}}}}
 ]}
]
}
